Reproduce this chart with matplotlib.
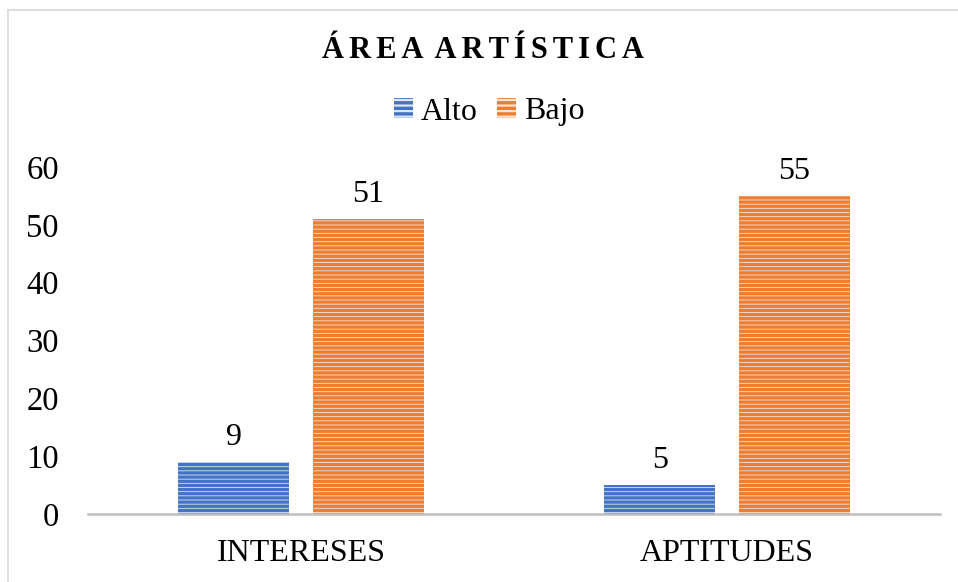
import matplotlib
matplotlib.use("Agg")
import matplotlib.pyplot as plt
from matplotlib.patches import Patch
from matplotlib.lines import Line2D

categories = ["INTERESES", "APTITUDES"]
series_names = ["Alto", "Bajo"]
alto = [9, 5]
bajo = [51, 55]

plt.rcParams['font.family'] = ['Liberation Serif', 'DejaVu Serif']
plt.rcParams['hatch.linewidth'] = 2.4

W, H = 958, 582
fig = plt.figure(figsize=(W/100, H/100), dpi=100)
ax = fig.add_axes([88/W, 1-514/H, 852/W, 347/H])

blue = "#4472C4"
orange = "#ED7D31"
blue_light = "#DCE6F7"
orange_light = "#FCE4D3"

x = list(range(len(categories)))
w = 0.26
off = 0.158
b1 = ax.bar([i - off for i in x], alto, width=w, facecolor=blue_light, edgecolor=blue,
            linewidth=0, hatch="----", label=series_names[0])
b2 = ax.bar([i + off for i in x], bajo, width=w, facecolor=orange_light, edgecolor=orange,
            linewidth=0, hatch="----", label=series_names[1])

for bars, vals in ((b1, alto), (b2, bajo)):
    for r, v in zip(bars, vals):
        ax.annotate(str(v), (r.get_x() + r.get_width()/2, v), xytext=(0, 7),
                    textcoords="offset points", ha="center", va="bottom", fontsize=23)

ax.set_xlim(-0.5, 1.5)
ax.set_ylim(0, 60)
ax.set_yticks(range(0, 61, 10))
ax.set_xticks(x)
ax.set_xticklabels(categories, fontsize=23)
ax.tick_params(axis="both", length=0)
ax.tick_params(axis="y", labelsize=23.5, pad=21)
ax.tick_params(axis="x", pad=18)
for s in ["top", "right", "left"]:
    ax.spines[s].set_visible(False)
ax.spines["bottom"].set_color("#BFBFBF")
ax.spines["bottom"].set_linewidth(1.8)

sp = "\u200a\u200a"
title = sp.join("ÁREA") + " " + sp + sp.join("ARTÍSTICA")
fig.text(483.5/W, 1-50/H, title, ha="center", va="center",
         fontsize=22, fontweight="bold")

handles = [Patch(facecolor=blue_light, edgecolor=blue, hatch="---", linewidth=0),
           Patch(facecolor=orange_light, edgecolor=orange, hatch="---", linewidth=0)]
fig.legend(handles, series_names, loc="center", bbox_to_anchor=(489.5/W, 1-112/H), ncol=2,
           frameon=False, fontsize=23, handlelength=0.6, handleheight=0.6,
           handletextpad=0.25, columnspacing=0.6)

fig.lines.append(Line2D([8/W, 8/W], [0, 1-10/H], transform=fig.transFigure,
                        color="#D9D9D9", linewidth=1.2))
fig.lines.append(Line2D([8/W, 1], [1-10/H, 1-10/H], transform=fig.transFigure,
                        color="#D9D9D9", linewidth=1.2))

fig.savefig("out.png", dpi=100)
